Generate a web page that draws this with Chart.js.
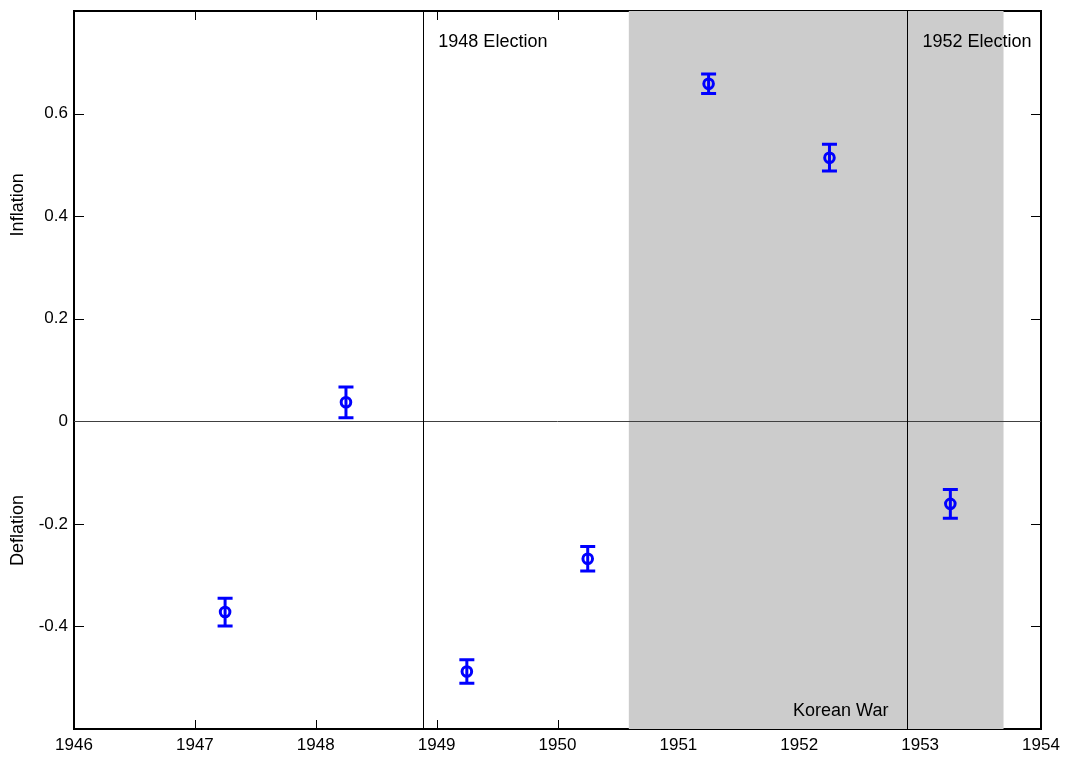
<!DOCTYPE html>
<html>
<head>
<meta charset="utf-8">
<script src="https://cdn.jsdelivr.net/npm/chart.js@4"></script>
<style>
html,body{margin:0;padding:0;background:#fff;}
canvas{display:block;}
</style>
</head>
<body>
<canvas id="c" width="1065" height="758"></canvas>
<script>
const years = [1947.25, 1948.25, 1949.25, 1950.25, 1951.25, 1952.25, 1953.25];
const values = [-0.372, 0.037, -0.488, -0.268, 0.658, 0.514, -0.161];
const errors = [0.027, 0.030, 0.023, 0.024, 0.019, 0.026, 0.028];
const xTicks = [1946, 1947, 1948, 1949, 1950, 1951, 1952, 1953, 1954];
const yTicks = [-0.4, -0.2, 0, 0.2, 0.4, 0.6];
const yTickLabels = ['-0.4', '-0.2', '0', '0.2', '0.4', '0.6'];
const electionYears = [1948.89, 1952.895];
const electionLabels = ['1948 Election', '1952 Election'];
const warStart = 1950.59;
const warEnd = 1953.69;
const warLabel = 'Korean War';
const yTitles = ['Inflation', 'Deflation'];
const yTitleValues = [0.422, -0.213];

const FONT = '"Liberation Sans", Arial, sans-serif';
const FS = 17;
const FS_ANN = 18;

const annot = {
  id: 'annot',
  beforeDatasetsDraw(chart) {
    const ctx = chart.ctx;
    const a = chart.chartArea;
    const xs = chart.scales.x, ys = chart.scales.y;
    ctx.save();
    // box
    ctx.strokeStyle = '#000';
    ctx.lineWidth = 2;
    ctx.strokeRect(a.left, a.top, a.right - a.left, a.bottom - a.top);
    // inward ticks
    ctx.lineWidth = 1;
    ctx.beginPath();
    xTicks.forEach(v => {
      const p = Math.round(xs.getPixelForValue(v)) + 0.5;
      ctx.moveTo(p, a.bottom); ctx.lineTo(p, a.bottom - 9);
      ctx.moveTo(p, a.top); ctx.lineTo(p, a.top + 9);
    });
    yTicks.forEach(v => {
      const p = Math.round(ys.getPixelForValue(v)) + 0.5;
      ctx.moveTo(a.left, p); ctx.lineTo(a.left + 10, p);
      ctx.moveTo(a.right, p); ctx.lineTo(a.right - 10, p);
    });
    ctx.stroke();
    // shading
    const s0 = xs.getPixelForValue(warStart), s1 = xs.getPixelForValue(warEnd);
    ctx.fillStyle = '#cccccc';
    ctx.fillRect(s0, a.top, s1 - s0, a.bottom - a.top);
    // zero line
    const y0 = Math.round(ys.getPixelForValue(0)) + 0.5;
    ctx.strokeStyle = '#404040';
    ctx.lineWidth = 1;
    ctx.beginPath();
    ctx.moveTo(a.left, y0); ctx.lineTo(a.right, y0);
    ctx.stroke();
    // election lines
    ctx.strokeStyle = '#000';
    electionYears.forEach(v => {
      const p = Math.round(xs.getPixelForValue(v)) + 0.5;
      ctx.beginPath();
      ctx.moveTo(p, a.top); ctx.lineTo(p, a.bottom);
      ctx.stroke();
    });
    // texts
    ctx.fillStyle = '#000';
    ctx.font = FS_ANN + 'px ' + FONT;
    ctx.textBaseline = 'middle';
    ctx.textAlign = 'left';
    electionYears.forEach((v, i) => {
      const p = xs.getPixelForValue(v);
      ctx.fillText(electionLabels[i], p + 15, a.top + 31);
    });
    ctx.textAlign = 'right';
    ctx.fillText(warLabel, xs.getPixelForValue(electionYears[1]) - 19, a.bottom - 18);
    // y titles
    yTitles.forEach((t, i) => {
      ctx.save();
      ctx.translate(18, ys.getPixelForValue(yTitleValues[i]));
      ctx.rotate(-Math.PI / 2);
      ctx.textAlign = 'center';
      ctx.fillText(t, 0, 0);
      ctx.restore();
    });
    // error bars
    ctx.strokeStyle = '#0000ff';
    ctx.lineWidth = 3;
    years.forEach((x, i) => {
      const px = xs.getPixelForValue(x);
      const t = ys.getPixelForValue(values[i] + errors[i]);
      const b = ys.getPixelForValue(values[i] - errors[i]);
      ctx.beginPath();
      ctx.moveTo(px, t); ctx.lineTo(px, b);
      ctx.moveTo(px - 7.5, t); ctx.lineTo(px + 7.5, t);
      ctx.moveTo(px - 7.5, b); ctx.lineTo(px + 7.5, b);
      ctx.stroke();
    });
    ctx.restore();
  }
};

new Chart(document.getElementById('c'), {
  type: 'scatter',
  data: {
    datasets: [{
      data: years.map((x, i) => ({ x: x, y: values[i] })),
      pointStyle: 'circle',
      pointRadius: 4.8,
      pointBorderWidth: 3,
      borderColor: '#0000ff',
      backgroundColor: 'rgba(0,0,0,0)',
      pointBackgroundColor: 'rgba(0,0,0,0)'
    }]
  },
  options: {
    responsive: false,
    animation: false,
    devicePixelRatio: 1,
    layout: { padding: { left: 0, right: 24, top: 11, bottom: 0 } },
    plugins: { legend: { display: false }, tooltip: { enabled: false } },
    scales: {
      x: {
        type: 'linear',
        min: 1946, max: 1954,
        afterBuildTicks: s => { s.ticks = xTicks.map(v => ({ value: v })); },
        afterFit: s => { s.height = 29; s.paddingLeft = 0; s.paddingRight = 0; },
        grid: { display: false, drawTicks: false },
        border: { display: false },
        ticks: {
          padding: 6,
          color: '#000',
          font: { family: FONT, size: FS },
          maxRotation: 0,
          autoSkip: false,
          callback: v => String(v)
        }
      },
      y: {
        type: 'linear',
        min: -0.6, max: 0.8,
        afterBuildTicks: s => { s.ticks = yTicks.map(v => ({ value: v })); },
        afterFit: s => { s.width = 74; s.paddingTop = 0; s.paddingBottom = 0; },
        grid: { display: false, drawTicks: false },
        border: { display: false },
        ticks: {
          padding: 6,
          color: '#000',
          font: { family: FONT, size: FS },
          autoSkip: false,
          callback: (v) => { const i = yTicks.findIndex(t => Math.abs(t - v) < 1e-9); return i >= 0 ? yTickLabels[i] : ''; }
        }
      }
    }
  },
  plugins: [annot]
});
</script>
</body>
</html>
